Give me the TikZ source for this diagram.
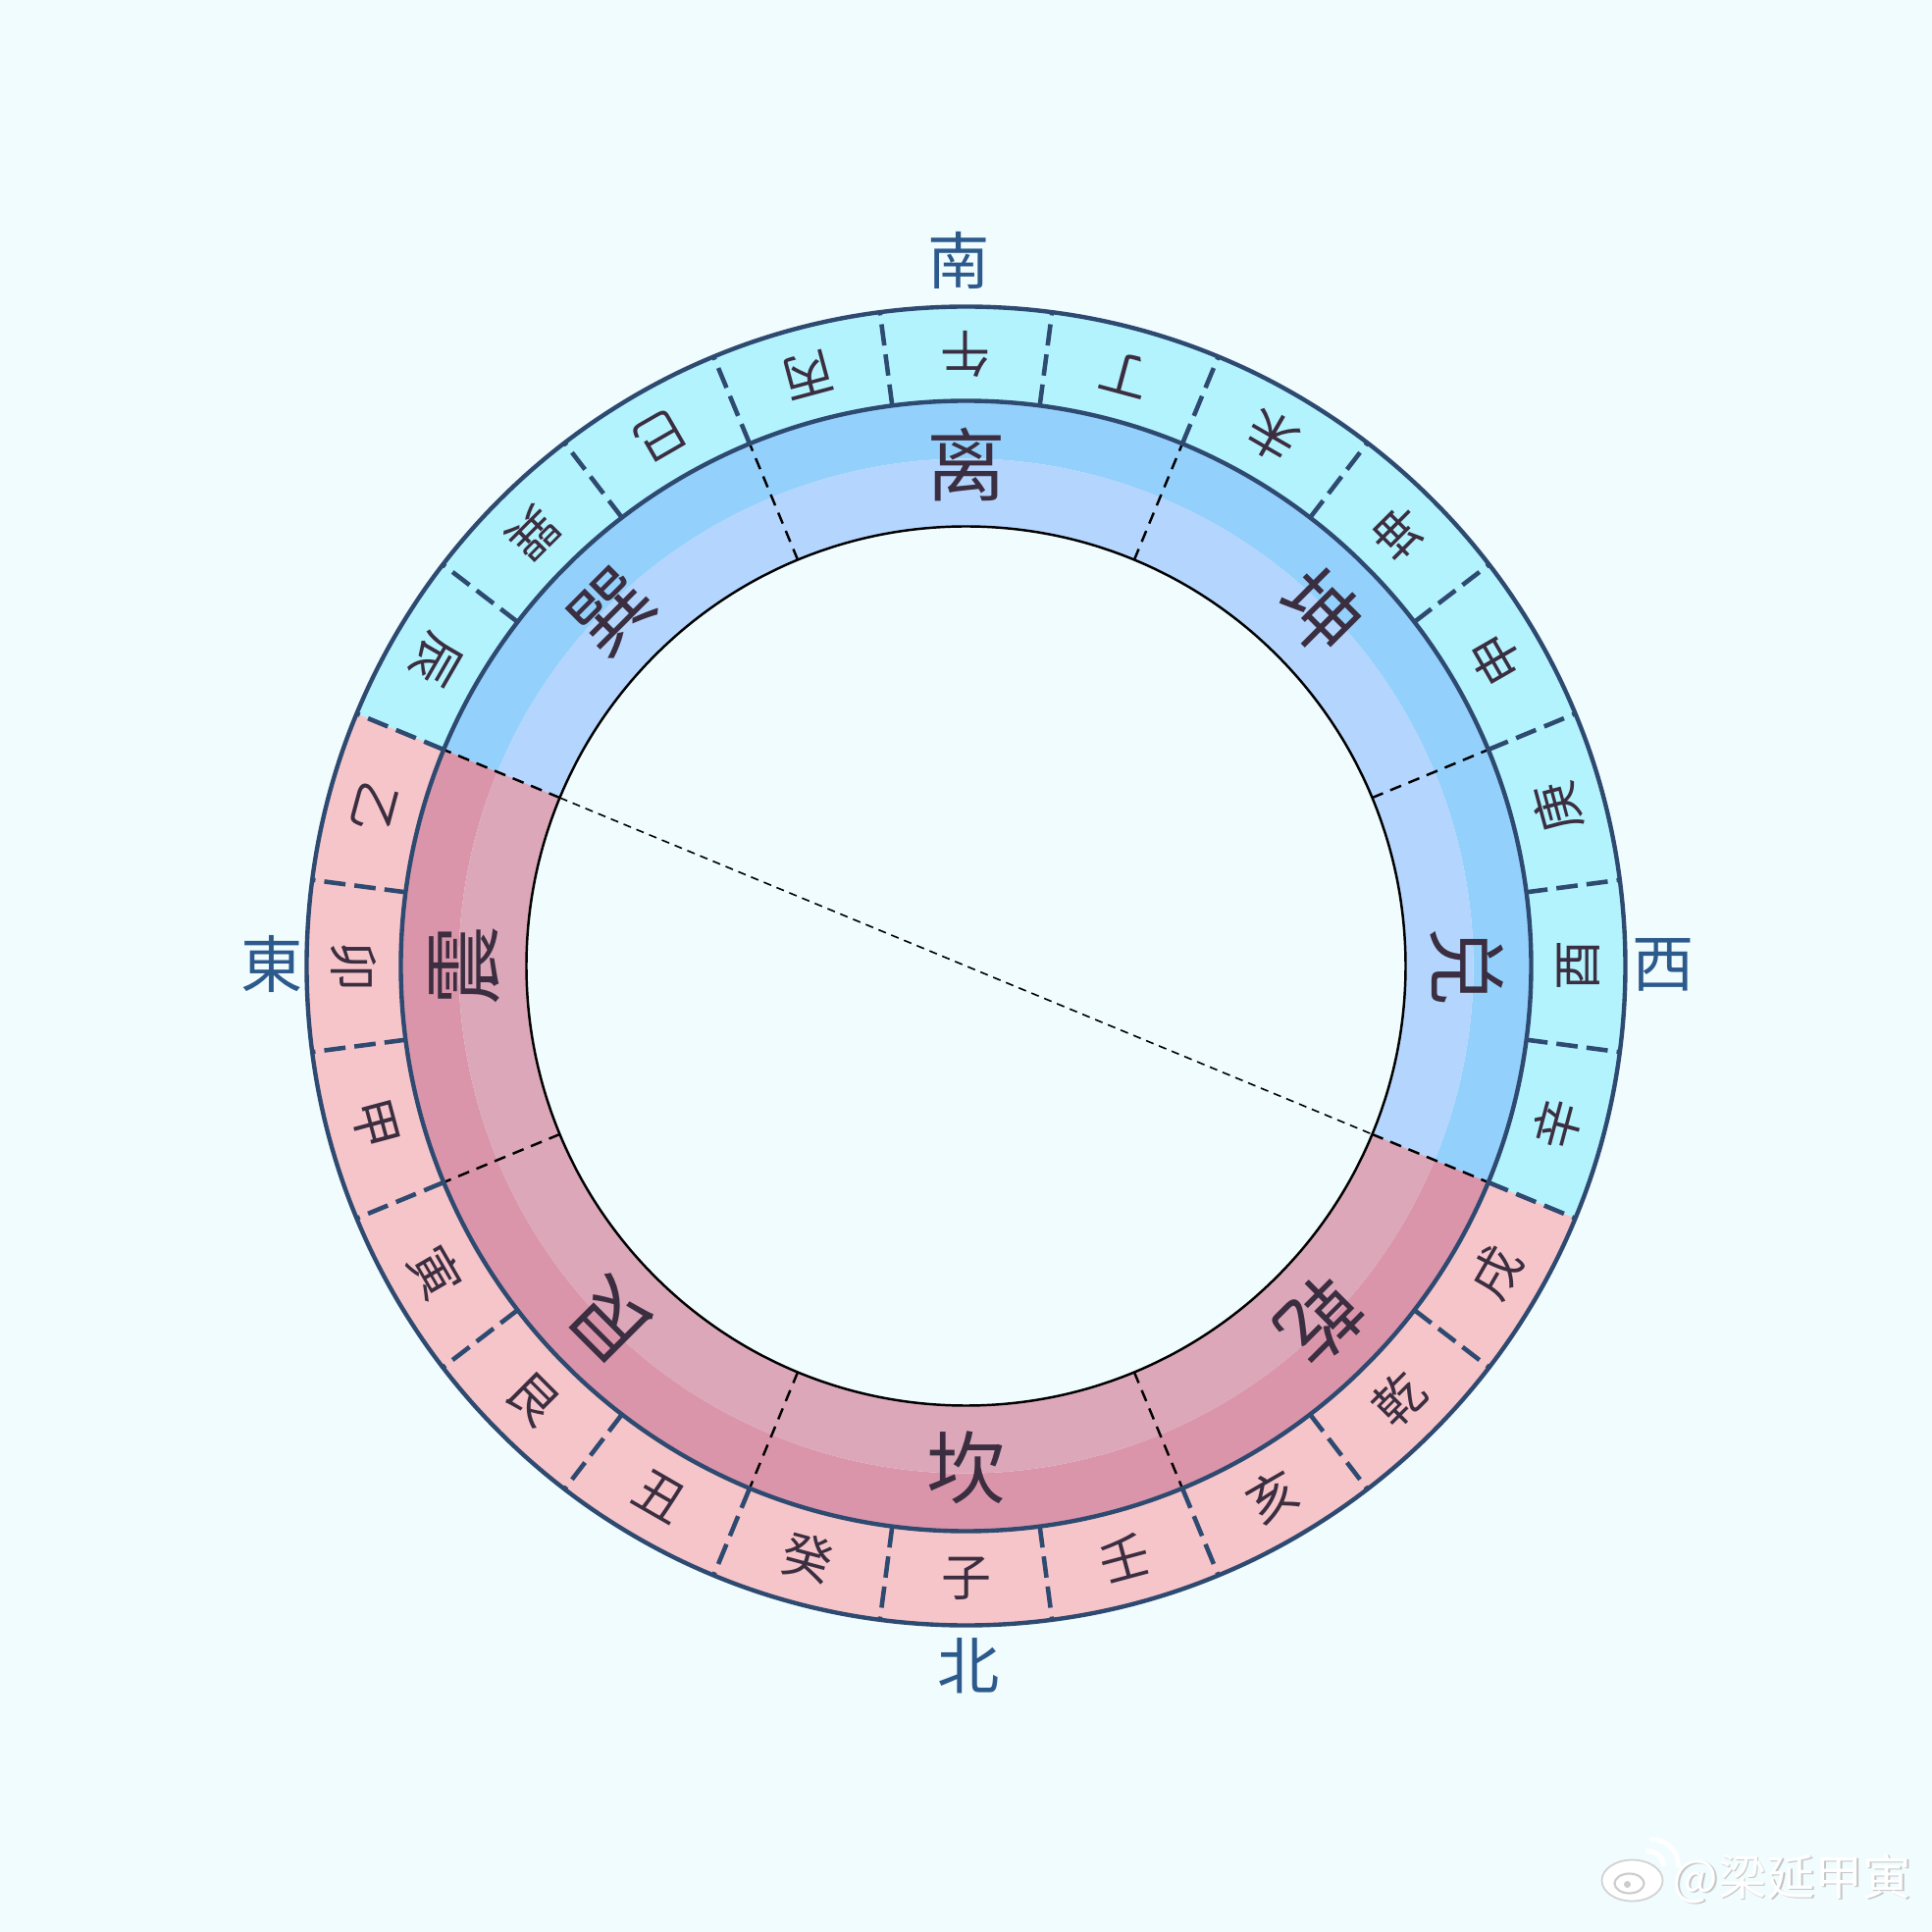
\documentclass[tikz,border=0pt]{standalone}
\usepackage{fontspec}
\setmainfont{Noto Sans CJK SC}
\definecolor{bg}{HTML}{F0FCFE}
\definecolor{skyout}{HTML}{B3F3FD}
\definecolor{skydark}{HTML}{94D0FC}
\definecolor{skylight}{HTML}{B4D5FD}
\definecolor{roseout}{HTML}{F6C5C9}
\definecolor{rosedark}{HTML}{DA95AA}
\definecolor{roselight}{HTML}{DCA7B9}
\definecolor{rim}{HTML}{2E4A70}
\definecolor{ink}{HTML}{3A2E40}
\definecolor{compass}{HTML}{2D5A8C}
\newcommand{\ringpart}[5]{\fill[#1] (#2:#4) arc[start angle=#2, end angle=#3, radius=#4] -- (#3:#5) arc[start angle=#3, end angle=#2, radius=#5] -- cycle;}
\tikzset{
  shan/.style={text=ink, font=\fontsize{14.5}{14.5}\selectfont, inner sep=0pt},
  gua/.style={text=ink, font=\fontsize{23}{23}\selectfont, inner sep=0pt},
  fang/.style={text=compass, font=\fontsize{18}{18}\selectfont, inner sep=0pt},
  outerdiv/.style={rim, line width=1.3pt, dash pattern=on 6.2pt off 2.6pt},
  innerdiv/.style={black, line width=0.7pt, dash pattern=on 3.4pt off 2.3pt},
  rimline/.style={rim, line width=1.25pt},
  wm/.style={font=\fontsize{14}{14}\selectfont, inner sep=0pt}
}
\begin{document}
\begin{tikzpicture}
\useasboundingbox (-9.845,-9.845) rectangle (9.845,9.845);
\fill[bg] (-9.845,-9.845) rectangle (9.845,9.845);

% rings
\ringpart{skyout}{-22.5}{157.5}{5.76}{6.72}
\ringpart{roseout}{157.5}{337.5}{5.76}{6.72}
\ringpart{skydark}{-22.5}{157.5}{5.17}{5.76}
\ringpart{rosedark}{157.5}{337.5}{5.17}{5.76}
\ringpart{skylight}{-22.5}{157.5}{4.48}{5.17}
\ringpart{roselight}{157.5}{337.5}{4.48}{5.17}
\draw[black, line width=0.7pt] (0,0) circle (4.48);

% dividers
\foreach \a in {7.5,22.5,...,352.5}
  \draw[outerdiv] (\a:5.76) -- (\a:6.72);
\foreach \a in {22.5,67.5,...,337.5}
  \draw[innerdiv] (\a:4.48) -- (\a:5.76);
\draw[rimline] (0,0) circle (5.76);
\draw[rimline] (0,0) circle (6.72);

\coordinate (de) at (157.5:4.48);
\coordinate (dw) at (-22.5:4.48);
\draw[black, line width=0.45pt, dash pattern=on 2.3pt off 1.7pt] (de) -- (dw);

% twenty-four mountains
\foreach \t/\n [count=\i from 0] in {子/zi,癸/gui,丑/chou,艮/gen,寅/yin,甲/jia,卯/mao,乙/yi,辰/chen,巽/xun,巳/si,丙/bing,午/wu,丁/ding,未/wei,坤/kun,申/shen,庚/geng,酉/you,辛/xin,戌/xu,乾/qian,亥/hai,壬/ren}{
  \pgfmathsetmacro\a{270-15*\i}
  \node[shan, rotate=\a+90] (\n) at (\a:6.24) {\t};
}

% eight trigrams
\foreach \t/\n/\a/\r in {坎/gkan/-90/0,艮/ggen/-135/135,震/gzhen/180/90,巽/gxun/135/45,离/gli/90/0,坤/gkun/45/-45,兑/gdui/0/-90,乾/gqian/-45/-135}
  \node[gua, rotate=\r] (\n) at (\a:5.11) {\t};

% directions
\node[fang] (nan) at (-0.07,7.19) {南};
\node[fang] (bei) at (0.03,-7.13) {北};
\node[fang] (dong) at (-7.07,0.02) {東};
\node[fang] (xi) at (7.11,0.01) {西};

% watermark
\begin{scope}[shift={(6.79,-9.32)}]
\fill[white, draw=gray!35, line width=0.5pt] (0,0) ellipse (0.31 and 0.21);
\draw[gray!40, line width=0.6pt] (-0.03,-0.03) ellipse (0.15 and 0.1);
\fill[gray!40] (-0.05,-0.04) circle (0.035);
\draw[white, line width=1.6pt, line cap=round] (0.16,0.3) arc[start angle=90, end angle=10, radius=0.16];
\draw[white, line width=1.4pt, line cap=round] (0.2,0.42) arc[start angle=90, end angle=0, radius=0.27];
\end{scope}
\node[wm, text=gray!45] (wmshadow) at (8.435,-9.315) {@梁延甲寅};
\node[wm, text=white] (wmtext) at (8.42,-9.30) {@梁延甲寅};
\end{tikzpicture}
\end{document}
